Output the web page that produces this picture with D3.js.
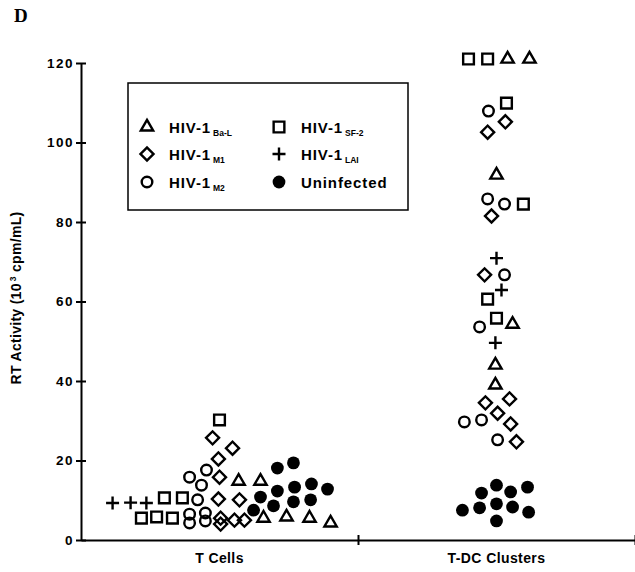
<!DOCTYPE html>
<html>
<head>
<meta charset="utf-8">
<script src="https://cdn.jsdelivr.net/npm/d3@7"></script>
<style>
  body { margin: 0; background: #fff; }
  svg { display: block; font-family: "Liberation Sans", Arial, sans-serif; font-weight: bold; }
</style>
</head>
<body>
<div id="vis"></div>
<script>
const categories = ["T Cells", "T-DC Clusters"];
const yTicks = [0, 20, 40, 60, 80, 100, 120];

// each point: [group, offset inside group (fraction of group width), RT activity 10^3 cpm/mL]
const baL = [
  ["T Cells", 0.069, 14.8], ["T Cells", 0.148, 14.8], ["T Cells", 0.159, 5.5],
  ["T Cells", 0.242, 5.8], ["T Cells", 0.325, 5.5], ["T Cells", 0.401, 4.3],
  ["T-DC Clusters", 0.040, 121], ["T-DC Clusters", 0.119, 121], ["T-DC Clusters", 0, 91.8],
  ["T-DC Clusters", 0.058, 54.3], ["T-DC Clusters", -0.004, 44.0], ["T-DC Clusters", -0.004, 39.0]
];
const sf2 = [
  ["T Cells", -0.282, 5.5], ["T Cells", -0.227, 5.8], ["T Cells", -0.170, 5.5],
  ["T Cells", -0.199, 10.6], ["T Cells", -0.134, 10.6], ["T Cells", 0, 30.2],
  ["T-DC Clusters", -0.101, 121], ["T-DC Clusters", -0.032, 121], ["T-DC Clusters", 0.036, 109.9],
  ["T-DC Clusters", 0.097, 84.5], ["T-DC Clusters", -0.032, 60.6], ["T-DC Clusters", 0, 55.8]
];
const m1 = [
  ["T Cells", -0.025, 25.7], ["T Cells", 0.047, 23.1], ["T Cells", -0.004, 20.4],
  ["T Cells", 0, 15.8], ["T Cells", -0.004, 10.3], ["T Cells", 0.072, 10.1],
  ["T Cells", 0.004, 5.5], ["T Cells", 0.004, 4.0], ["T Cells", 0.054, 5.0], ["T Cells", 0.090, 5.0],
  ["T-DC Clusters", 0.032, 105.2], ["T-DC Clusters", -0.032, 102.6], ["T-DC Clusters", -0.018, 81.5],
  ["T-DC Clusters", -0.043, 66.7], ["T-DC Clusters", -0.040, 34.5], ["T-DC Clusters", 0.047, 35.5],
  ["T-DC Clusters", 0.004, 31.9], ["T-DC Clusters", 0.051, 29.2], ["T-DC Clusters", 0.072, 24.7]
];
const lai = [
  ["T Cells", -0.386, 9.3], ["T Cells", -0.321, 9.4], ["T Cells", -0.264, 9.3],
  ["T-DC Clusters", 0, 70.9], ["T-DC Clusters", 0.018, 62.9], ["T-DC Clusters", -0.004, 49.6]
];
const m2 = [
  ["T Cells", -0.108, 15.8], ["T Cells", -0.047, 17.6], ["T Cells", -0.065, 13.8],
  ["T Cells", -0.079, 10.1], ["T Cells", -0.108, 6.5], ["T Cells", -0.108, 4.3],
  ["T Cells", -0.051, 6.8], ["T Cells", -0.051, 4.8],
  ["T-DC Clusters", -0.029, 107.9], ["T-DC Clusters", -0.032, 85.8], ["T-DC Clusters", 0.029, 84.5],
  ["T-DC Clusters", 0.029, 66.7], ["T-DC Clusters", -0.061, 53.6], ["T-DC Clusters", -0.116, 29.7],
  ["T-DC Clusters", -0.054, 30.2], ["T-DC Clusters", 0.004, 25.2]
];
const uninfected = [
  ["T Cells", 0.209, 18.1], ["T Cells", 0.267, 19.4], ["T Cells", 0.209, 12.3],
  ["T Cells", 0.271, 13.3], ["T Cells", 0.332, 14.1], ["T Cells", 0.390, 12.8],
  ["T Cells", 0.148, 10.8], ["T Cells", 0.267, 9.6], ["T Cells", 0.329, 10.1],
  ["T Cells", 0.195, 8.6], ["T Cells", 0.123, 7.5],
  ["T-DC Clusters", 0, 13.8], ["T-DC Clusters", -0.054, 11.8], ["T-DC Clusters", 0.051, 12.1],
  ["T-DC Clusters", 0.112, 13.3], ["T-DC Clusters", -0.123, 7.5], ["T-DC Clusters", -0.061, 8.1],
  ["T-DC Clusters", 0, 9.1], ["T-DC Clusters", 0.058, 8.3], ["T-DC Clusters", 0.116, 7.0],
  ["T-DC Clusters", 0, 4.8]
];

// legend order: left column then right column
const series = [
  { name: "HIV-1", sub: "Ba-L", data: baL, shape: "triangle" },
  { name: "HIV-1", sub: "M1", data: m1, shape: "diamond" },
  { name: "HIV-1", sub: "M2", data: m2, shape: "circle" },
  { name: "HIV-1", sub: "SF-2", data: sf2, shape: "square" },
  { name: "HIV-1", sub: "LAI", data: lai, shape: "plus" },
  { name: "Uninfected", sub: "", data: uninfected, shape: "dot" }
];

const width = 635, height = 572;

const svg = d3.select("#vis")
    .append("svg")
    .attr("width", width)
    .attr("height", height);

const x = d3.scaleBand().domain(categories).range([81, 635]);
const xEdge = d3.scaleLinear().domain([0, 2]).range([81, 635]);
const y = d3.scaleLinear().domain([0, 120]).range([540, 63]);

// stroked plus, d3's cross is a filled shape
const plusType = {
  draw(ctx, size) {
    const r = Math.sqrt(size) / 2;
    ctx.moveTo(-r, 0); ctx.lineTo(r, 0);
    ctx.moveTo(0, -r); ctx.lineTo(0, r);
  }
};

const shapes = {
  triangle: { path: d3.symbol(d3.symbolTriangle, 66)(), rot: 0, fill: false },
  square: { path: d3.symbol(d3.symbolSquare, 115)(), rot: 0, fill: false },
  diamond: { path: d3.symbol(d3.symbolSquare, 85)(), rot: 45, fill: false },
  circle: { path: d3.symbol(d3.symbolCircle, 88)(), rot: 0, fill: false },
  plus: { path: d3.symbol(plusType, 169)(), rot: 0, fill: false },
  dot: { path: d3.symbol(d3.symbolCircle, 128)(), rot: 0, fill: true }
};

function drawSymbol(sel, shape) {
  const s = shapes[shape];
  sel.append("path")
      .attr("d", s.path)
      .attr("transform", (d) => "translate(" + d.cx + "," + d.cy + ")" + (s.rot ? " rotate(" + s.rot + ")" : ""))
      .attr("fill", s.fill ? "#000" : "none")
      .attr("stroke", s.fill ? "none" : "#000")
      .attr("stroke-width", 2.4);
}

// y axis
const yAxis = svg.append("g")
    .attr("transform", "translate(81,0)")
    .call(d3.axisLeft(y).tickValues(yTicks).tickSize(5).tickSizeOuter(0).tickPadding(2));
yAxis.selectAll(".tick line").attr("x1", 5).attr("stroke-width", 2);
yAxis.select(".domain").attr("stroke-width", 2);
yAxis.selectAll("text")
    .style("font-size", "13.5px")
    .style("font-weight", "bold")
    .style("letter-spacing", "1.5px")
    .attr("fill", "#000");

// x axis: ticks on group edges, labels at group centres
const xAxis = svg.append("g")
    .attr("transform", "translate(0,540)")
    .call(d3.axisBottom(xEdge).tickValues([1, 2]).tickFormat("").tickSize(5).tickSizeOuter(0));
xAxis.selectAll(".tick line").attr("y1", -5).attr("stroke-width", 2);
xAxis.select(".domain").attr("stroke-width", 2);

const xLabels = svg.append("g")
    .attr("transform", "translate(0,540)")
    .call(d3.axisBottom(x).tickSize(0).tickPadding(13));
xLabels.select(".domain").remove();
xLabels.selectAll("text")
    .style("font-size", "14px")
    .style("font-weight", "bold")
    .style("letter-spacing", "0.4px")
    .attr("fill", "#000");

// points
series.forEach((s) => {
  const pts = s.data.map((d) => ({
    cx: x(d[0]) + x.bandwidth() / 2 + d[1] * x.bandwidth(),
    cy: y(d[2])
  }));
  const g = svg.append("g").selectAll("g").data(pts).enter().append("g");
  drawSymbol(g, s.shape);
});

// y title
const yTitle = svg.append("text")
    .attr("transform", "translate(21,298) rotate(-90)")
    .attr("text-anchor", "middle")
    .style("font-size", "14px")
    .style("letter-spacing", "0.3px");
yTitle.append("tspan").text("RT Activity (10");
yTitle.append("tspan").attr("dy", -5).attr("dx", 2).style("font-size", "8.5px").text("3");
yTitle.append("tspan").attr("dy", 5).text(" cpm/mL)");

// panel letter
svg.append("text")
    .attr("x", 14)
    .attr("y", 22)
    .style("font-family", "'Liberation Serif', 'Times New Roman', serif")
    .style("font-size", "19px")
    .text("D");

// legend
svg.append("rect")
    .attr("x", 128).attr("y", 83)
    .attr("width", 280).attr("height", 127)
    .attr("fill", "#fff")
    .attr("stroke", "#000")
    .attr("stroke-width", 1.5);

const legendRows = [127, 154, 182];
const legendCols = [147, 279];

series.forEach((s, i) => {
  const lx = legendCols[Math.floor(i / 3)];
  const ly = legendRows[i % 3];
  const g = svg.append("g").selectAll("g").data([{ cx: lx, cy: ly }]).enter().append("g");
  drawSymbol(g, s.shape);
  const t = svg.append("text")
      .attr("x", lx + 22)
      .attr("y", ly + 5.5)
      .style("font-size", "15px")
      .style("letter-spacing", "0.9px");
  t.append("tspan").text(s.name);
  if (s.sub) {
    t.append("tspan").attr("dx", 2).attr("dy", 3).style("font-size", "8.5px").style("letter-spacing", "0px").text(s.sub);
  }
});
</script>
</body>
</html>
